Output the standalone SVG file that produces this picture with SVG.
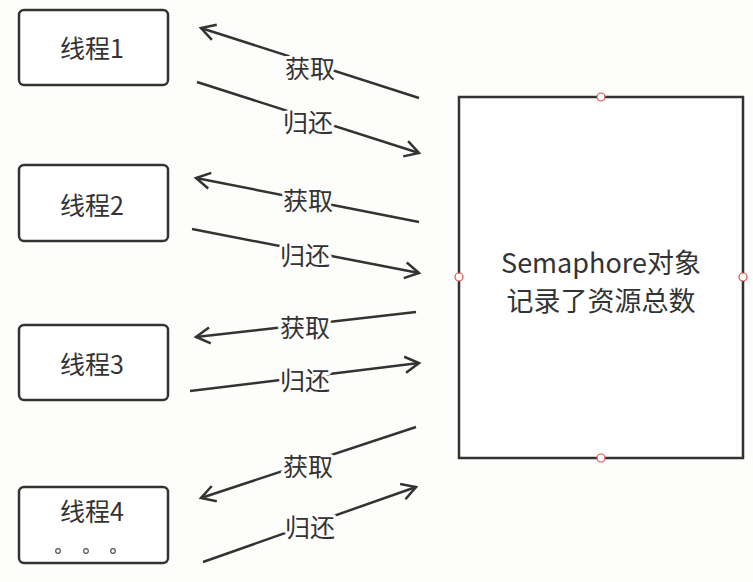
<svg xmlns="http://www.w3.org/2000/svg" width="753" height="582" viewBox="0 0 753 582">
<style>
.box{fill:#ffffff;stroke:#333333;stroke-width:2.5}
.t{font-family:"Noto Sans CJK SC","Noto Sans",sans-serif;font-size:25px;fill:#333333;text-anchor:middle;dominant-baseline:central}
.big{font-size:27px}
.lbl{font-family:"Noto Sans CJK SC","Noto Sans",sans-serif;font-size:25px;fill:#333333;text-anchor:middle;dominant-baseline:central;stroke:#fdfdfb;stroke-width:6;paint-order:stroke;stroke-linejoin:round}
.ln{stroke:#333333;stroke-width:2.5;fill:none;marker-end:url(#ah)}
.pt{fill:#ffffff;stroke:#d9534f;stroke-width:1.2}
.dot{fill:none;stroke:#555;stroke-width:1.2}
</style>
<defs>
<marker id="ah" markerUnits="userSpaceOnUse" markerWidth="24" markerHeight="24" refX="16" refY="10" orient="auto">
<path d="M2,2 L16,10 L2,18" fill="none" stroke="#333333" stroke-width="2.5" stroke-linejoin="miter"/>
</marker>
</defs>
<rect width="753" height="582" fill="#fdfdfb"/>
<g id="connectors">
<line class="ln" x1="419" y1="98" x2="201" y2="28"/>
<line class="ln" x1="197" y1="82" x2="419" y2="153"/>
<line class="ln" x1="419" y1="222" x2="196" y2="178"/>
<line class="ln" x1="192" y1="229" x2="419" y2="273"/>
<line class="ln" x1="416" y1="312" x2="196" y2="337"/>
<line class="ln" x1="190" y1="391" x2="419" y2="363"/>
<line class="ln" x1="416" y1="427" x2="201" y2="498"/>
<line class="ln" x1="203" y1="562" x2="416" y2="487"/>
<text class="lbl" x="310" y="67">获取</text>
<text class="lbl" x="308" y="121">归还</text>
<text class="lbl" x="308" y="199">获取</text>
<text class="lbl" x="305" y="254">归还</text>
<text class="lbl" x="305" y="326">获取</text>
<text class="lbl" x="305" y="379">归还</text>
<text class="lbl" x="308" y="465">获取</text>
<text class="lbl" x="310" y="526">归还</text>
</g>
<g id="thread1">
<rect class="box" x="19" y="10" width="149" height="75" rx="5"/>
<text class="t" x="92" y="47">线程1</text>
</g>
<g id="thread2">
<rect class="box" x="19" y="165" width="149" height="76" rx="5"/>
<text class="t" x="92" y="204">线程2</text>
</g>
<g id="thread3">
<rect class="box" x="19" y="325" width="149" height="75" rx="5"/>
<text class="t" x="92" y="363">线程3</text>
</g>
<g id="thread4">
<rect class="box" x="19" y="487" width="149" height="76" rx="5"/>
<text class="t" x="92" y="510">线程4</text>
<circle class="dot" cx="58" cy="551" r="2.3"/>
<circle class="dot" cx="86" cy="551" r="2.3"/>
<circle class="dot" cx="113" cy="551" r="2.3"/>
</g>
<g id="semaphore">
<rect x="459" y="97" width="284" height="361" fill="#ffffff" stroke="#333333" stroke-width="2.5"/>
<text class="t big" x="601" y="261">Semaphore对象</text>
<text class="t big" x="601" y="299">记录了资源总数</text>
<circle class="pt" cx="601" cy="97" r="4"/>
<circle class="pt" cx="459" cy="277" r="4"/>
<circle class="pt" cx="743" cy="277" r="4"/>
<circle class="pt" cx="601" cy="458" r="4"/>
</g>
</svg>
